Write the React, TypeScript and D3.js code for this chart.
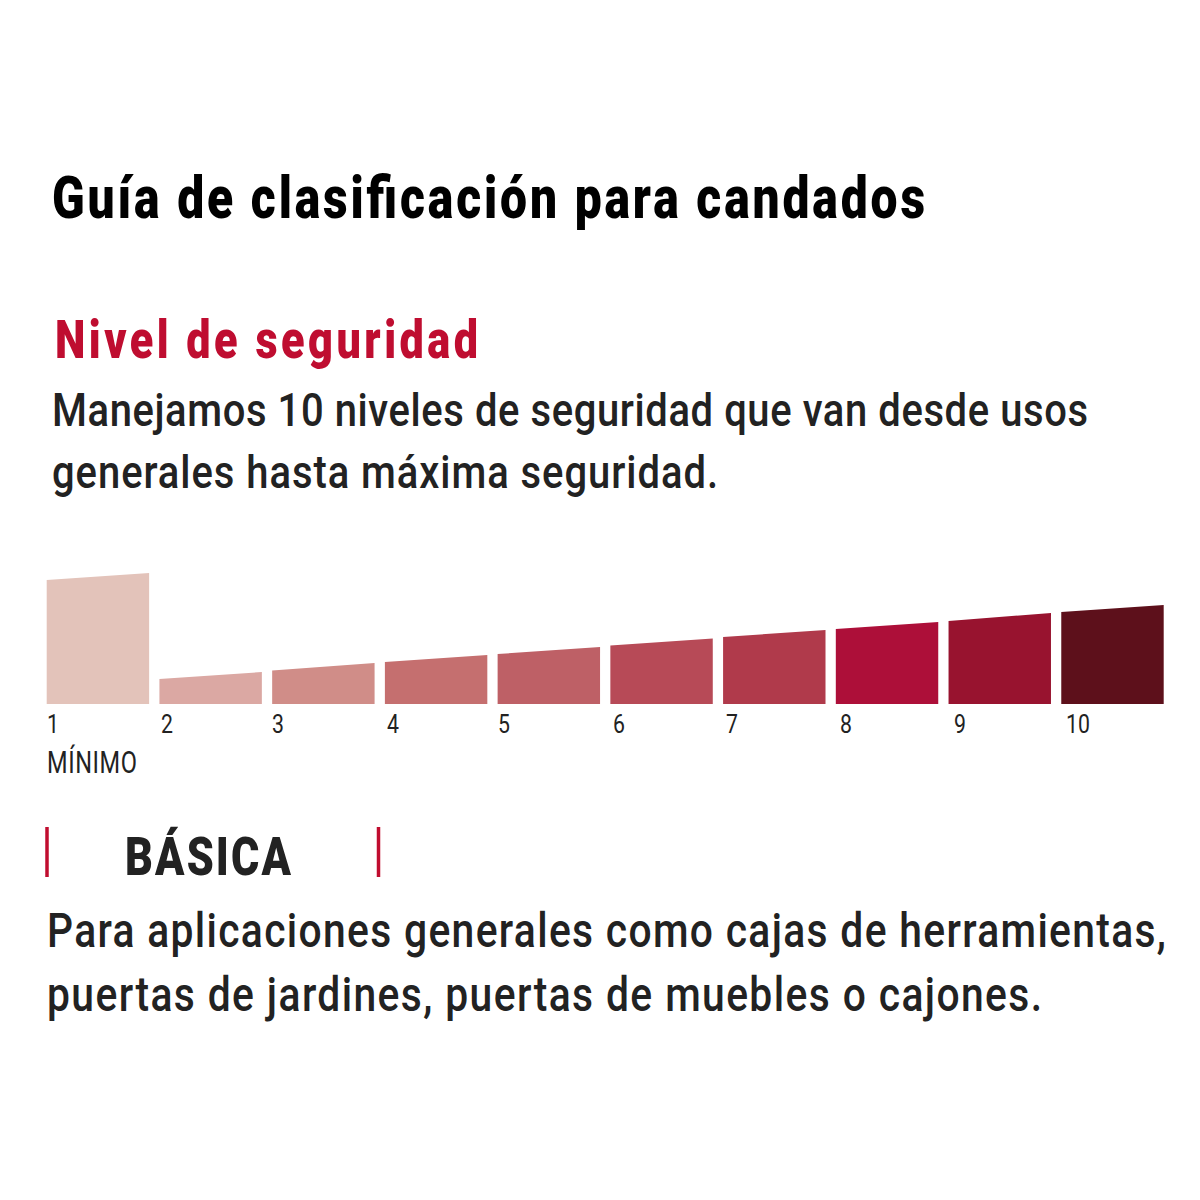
import React from "react";
import * as d3 from "d3";

const levels = ["1", "2", "3", "4", "5", "6", "7", "8", "9", "10"];
const topLeft = [124, 25, 33.5, 42, 50, 58.5, 67, 75, 83, 92];
const topRight = [131, 32, 41, 49, 57, 65.5, 74, 82, 91, 99];
const colors = ["#e3c3ba", "#dba8a3", "#d08d88", "#c56f6f", "#be6066", "#b74a57", "#b03a4b", "#ad0f39", "#98132f", "#5d101b"];
const labelX = [47, 161, 272, 387, 498, 613, 726, 840, 954, 1066];

const font = "Roboto, 'Noto Sans', sans-serif";

const x = d3.scaleBand().domain(levels).range([46.7, 1163.7]).paddingInner(0.0914).paddingOuter(0);
const y = d3.scaleLinear().domain([0, 131]).range([704, 573]);

// narrow the glyphs, then let the tracking fill the measured width
function Line({ tx, ty, size, weight, fill, len, sx, children }: any) {
  return (
    <text
      transform={`translate(${tx},${ty}) scale(${sx},1)`}
      fontSize={size}
      fontWeight={weight}
      fill={fill}
      fontFamily={font}
      textLength={len / sx}
      lengthAdjust="spacing"
    >
      {children}
    </text>
  );
}

export default function App() {
  const line = d3.line();
  return (
    <svg width={1200} height={1200} style={{ position: "absolute", left: 0, top: 0, background: "#fff" }}>
      <Line tx={52} ty={218} size={60} weight={900} fill="#000" len={873} sx={0.8}>Guía de clasificación para candados</Line>
      <Line tx={55} ty={358} size={54} weight={900} fill="#bf0d30" len={423} sx={0.8}>Nivel de seguridad</Line>
      <Line tx={52} ty={426} size={47} weight={500} fill="#222" len={1036} sx={0.85}>Manejamos 10 niveles de seguridad que van desde usos</Line>
      <Line tx={52} ty={488} size={47} weight={500} fill="#222" len={666} sx={0.85}>generales hasta máxima seguridad.</Line>
      {levels.map((d, i) => {
        const x0 = x(d)!;
        const x1 = x0 + x.bandwidth();
        const path = line([[x0, y(0)], [x0, y(topLeft[i])], [x1, y(topRight[i])], [x1, y(0)]]) + "Z";
        return (
          <g key={d}>
            <path d={path!} fill={colors[i]} />
            <text transform={`translate(${labelX[i]},733) scale(0.85,1)`} fontSize={25} fontWeight={400} fill="#222" fontFamily={font}>{d}</text>
          </g>
        );
      })}
      <Line tx={47} ty={773} size={31} weight={400} fill="#222" len={90} sx={0.76}>MÍNIMO</Line>
      <line x1={47} x2={47} y1={827} y2={877} stroke="#c00d2f" strokeWidth={3.5} />
      <line x1={378.5} x2={378.5} y1={827} y2={877} stroke="#c00d2f" strokeWidth={3.5} />
      <Line tx={125} ty={875} size={54} weight={900} fill="#222" len={166} sx={0.8}>BÁSICA</Line>
      <Line tx={47} ty={947} size={48} weight={500} fill="#222" len={1119} sx={0.85}>Para aplicaciones generales como cajas de herramientas,</Line>
      <Line tx={47} ty={1011} size={48} weight={500} fill="#222" len={995} sx={0.85}>puertas de jardines, puertas de muebles o cajones.</Line>
    </svg>
  );
}
